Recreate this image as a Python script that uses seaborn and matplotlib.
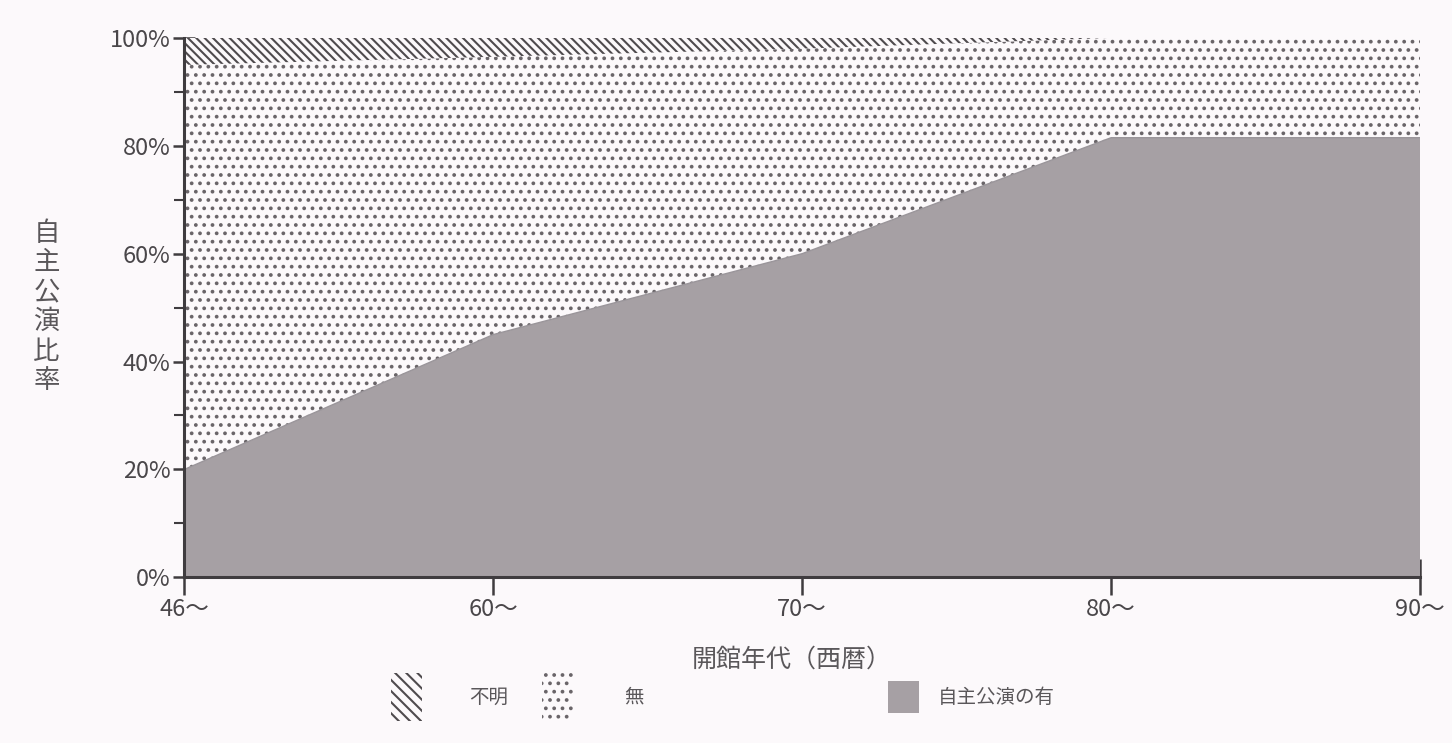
import numpy as np
import pandas as pd
import matplotlib
matplotlib.use("Agg")
import matplotlib.pyplot as plt
from matplotlib.patches import Patch
import seaborn as sns

# Opening-decade categories and shares (%) of halls by in-house production status
decades = ["46〜", "60〜", "70〜", "80〜", "90〜"]
share_yes = [20, 45, 60, 81.5, 81.5]       # 自主公演の有
share_unknown = [5, 3.5, 2, 0, 0]          # 不明
share_no = [100 - y - u for y, u in zip(share_yes, share_unknown)]  # 無

y_ticks = [0, 20, 40, 60, 80, 100]
y_tick_labels = ["0%", "20%", "40%", "60%", "80%", "100%"]
y_label = "自主公演比率"
x_label = "開館年代（西暦）"
legend_labels = ["不明", "無", "自主公演の有"]

sns.set_theme(style="ticks")
plt.rcParams["font.family"] = ["Noto Sans CJK JP", "DejaVu Sans"]
plt.rcParams["hatch.color"] = "#5e5a5d"
plt.rcParams["hatch.linewidth"] = 1.5

bg = "#fcf9fb"
grey_fill = "#a6a0a4"
ink = "#4a474a"
dot_col = "#6a6569"
hatch_no = ".."
hatch_unknown = "\\\\\\\\"

df = pd.DataFrame({"decade": decades, "yes": share_yes,
                   "no": share_no, "unknown": share_unknown})
df["x"] = np.arange(len(df))
df["top_yes"] = df["yes"]
df["top_no"] = df["yes"] + df["no"]
df["top_unknown"] = df["top_no"] + df["unknown"]

fig = plt.figure(figsize=(14.52, 7.43), dpi=100, facecolor=bg)
ax = fig.add_axes([0.127, 0.223, 0.851, 0.726])
ax.set_facecolor(bg)

ax.fill_between(df["x"], 0, df["top_yes"], facecolor=grey_fill, edgecolor="none", lw=0)
ax.fill_between(df["x"], df["top_yes"], df["top_no"], facecolor=bg,
                edgecolor=dot_col, hatch=hatch_no, lw=0)
ax.fill_between(df["x"], df["top_no"], df["top_unknown"], facecolor=bg,
                edgecolor="#4f4b4e", hatch=hatch_unknown, lw=0)
sns.lineplot(data=df, x="x", y="top_yes", ax=ax, color="#9a959a", lw=1.0)

ax.set_xlim(0, len(decades) - 1)
ax.set_ylim(0, 100)
ax.set_xticks(df["x"])
ax.set_xticklabels(decades, fontsize=17, color=ink)
ax.set_yticks(y_ticks)
ax.set_yticklabels(y_tick_labels, fontsize=17, color=ink)
ax.set_yticks([10, 30, 50, 70, 90], minor=True)
ax.tick_params(axis="y", which="major", direction="inout", length=16, width=1.8,
               color="#3f3c3f", pad=2)
ax.tick_params(axis="y", which="minor", direction="inout", length=14, width=1.5,
               color="#3f3c3f")
ax.tick_params(axis="x", which="major", direction="inout", length=26, width=1.8,
               color="#3f3c3f", pad=2)
ax.set_xlabel("")
ax.set_ylabel("")
sns.despine(ax=ax)
for side in ("left", "bottom"):
    ax.spines[side].set_linewidth(2.2)
    ax.spines[side].set_color("#3f3c3f")

# Vertical stacked y-axis title
fig.text(0.032, 0.587, "\n".join(y_label), fontsize=19, color="#5a575a",
         ha="center", va="center", linespacing=1.12)
fig.text(0.545, 0.112, x_label, fontsize=18, color="#5a575a",
         ha="center", va="center")

# Legend entries
legend_specs = [
    (Patch(facecolor=bg, edgecolor="#4f4b4e", hatch="\\\\\\", lw=0), legend_labels[0], 0.264, 3.4, 2.4),
    (Patch(facecolor=bg, edgecolor=dot_col, hatch=hatch_no, lw=0), legend_labels[1], 0.368, 3.4, 2.6),
    (Patch(facecolor=grey_fill, edgecolor="none"), legend_labels[2], 0.606, 2.2, 1.0),
]
for handle, label, xpos, hh, pad in legend_specs:
    fig.legend(handles=[handle], labels=[label], loc="center left",
               bbox_to_anchor=(xpos, 0.062), frameon=False, fontsize=14,
               handlelength=1.6, handleheight=hh, handletextpad=pad,
               labelcolor="#5a575a", borderaxespad=0)

fig.savefig("out.png", dpi=100, facecolor=bg)
